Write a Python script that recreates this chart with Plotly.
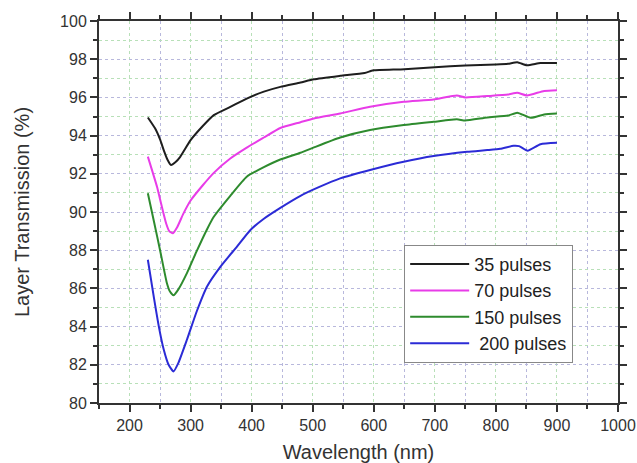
import plotly.graph_objects as go

# ---- data ----
wl_35 = [230, 242, 250, 256, 262, 268, 275, 283, 300, 320, 338, 365, 392, 420, 447, 480, 502,
         545, 585, 595, 600, 650, 700, 750, 800, 820, 835, 851, 873, 900]
t_35 = [94.95, 94.37, 93.8, 93.24, 92.75, 92.46, 92.6, 92.89, 93.76, 94.5, 95.07, 95.5, 95.94, 96.3, 96.55, 96.78, 96.95,
        97.13, 97.28, 97.38, 97.42, 97.48, 97.58, 97.67, 97.72, 97.76, 97.84, 97.68, 97.8, 97.8]

wl_70 = [230, 245, 252, 260, 265, 271, 278, 288, 300, 320, 338, 365, 392, 420, 447, 480, 502,
         545, 594, 649, 698, 736, 750, 786, 820, 835, 851, 879, 900]
t_70 = [92.9, 91.32, 90.4, 89.4, 89.0, 88.89, 89.2, 89.9, 90.6, 91.4, 92.05, 92.8, 93.37, 93.9, 94.4, 94.7, 94.9,
        95.16, 95.51, 95.77, 95.89, 96.1, 96.0, 96.07, 96.15, 96.24, 96.1, 96.34, 96.38]

wl_150 = [230, 240, 250, 261, 266, 272, 280, 294, 310, 327, 338, 365, 392, 420, 447, 480, 502,
          545, 594, 649, 698, 736, 750, 786, 820, 835, 857, 879, 900]
t_150 = [90.98, 89.5, 88.0, 86.3, 85.85, 85.64, 85.95, 86.8, 87.95, 89.1, 89.75, 90.85, 91.85, 92.35, 92.75, 93.1, 93.38,
         93.9, 94.29, 94.55, 94.72, 94.85, 94.79, 94.95, 95.05, 95.2, 94.93, 95.11, 95.16]

wl_200 = [230, 240, 248, 256, 264, 272, 280, 294, 310, 327, 349, 376, 398, 420, 447, 480, 510,
          545, 594, 649, 698, 753, 786, 807, 829, 838, 852, 873, 900]
t_200 = [87.5, 85.5, 84.0, 82.8, 82.0, 81.65, 82.1, 83.31, 84.79, 86.1, 87.14, 88.19, 89.06, 89.65, 90.22, 90.85, 91.3,
         91.76, 92.2, 92.63, 92.93, 93.15, 93.24, 93.31, 93.47, 93.45, 93.21, 93.55, 93.62]

series_names = ["35 pulses", "70 pulses", "150 pulses", " 200 pulses"]
series_colors = ["#1e1e1e", "#e83ce8", "#2e8b2e", "#2b2bd6"]

x_ticks = [200, 300, 400, 500, 600, 700, 800, 900, 1000]
y_ticks = [80, 82, 84, 86, 88, 90, 92, 94, 96, 98, 100]

FONT = "Liberation Sans, Arial"

fig = go.Figure()
for wl, t, name, col in zip([wl_35, wl_70, wl_150, wl_200], [t_35, t_70, t_150, t_200],
                            series_names, series_colors):
    fig.add_trace(go.Scatter(x=wl, y=t, mode="lines", name=name,
                             line=dict(color=col, width=2, shape="spline", smoothing=0.5)))

axis_common = dict(
    showline=True, linewidth=2, linecolor="#333333", mirror="ticks",
    ticks="outside", ticklen=7, tickwidth=1.5, tickcolor="#333333",
    tickfont=dict(family=FONT, size=16, color="#333333"),
    showgrid=True, griddash="dot", gridwidth=1, zeroline=False, automargin=False,
)

fig.update_xaxes(
    range=[150, 1000], tickmode="array", tickvals=x_ticks,
    gridcolor="#b8e0b8",
    minor=dict(dtick=50, tick0=150, ticks="outside", ticklen=4, tickwidth=1.5, tickcolor="#333333",
               showgrid=True, gridcolor="#b8b8dc", griddash="dot", gridwidth=1),
    title=dict(text="Wavelength (nm)", font=dict(family=FONT, size=20, color="#333333"),
               standoff=20),
    **axis_common,
)
fig.update_yaxes(
    range=[80, 100], tickmode="array", tickvals=y_ticks,
    gridcolor="#b8b8dc",
    minor=dict(dtick=1, tick0=80, ticks="outside", ticklen=4, tickwidth=1.5, tickcolor="#333333",
               showgrid=True, gridcolor="#b8e0b8", griddash="dot", gridwidth=1),
    title=dict(text="Layer Transmission (%)", font=dict(family=FONT, size=20, color="#333333"),
               standoff=25),
    **axis_common,
)

fig.update_layout(
    width=637, height=463,
    margin=dict(l=99, r=19, t=21, b=60),
    plot_bgcolor="white", paper_bgcolor="white",
    showlegend=True,
    legend=dict(x=0.588, y=0.414, xanchor="left", yanchor="top",
                bgcolor="white", bordercolor="#888888", borderwidth=1,
                itemwidth=59,
                font=dict(family=FONT, size=18, color="#222222")),
)

fig.write_html("out.html")
